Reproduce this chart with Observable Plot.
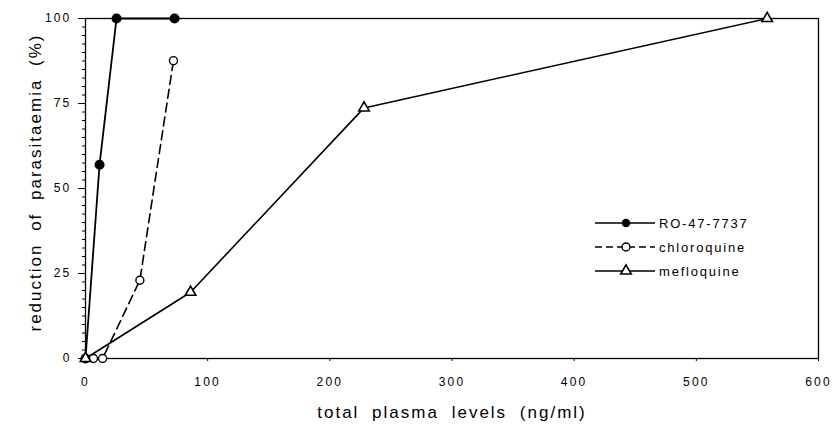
<!DOCTYPE html>
<html>
<head>
<meta charset="utf-8">
<script src="https://cdn.jsdelivr.net/npm/d3@7"></script>
<script src="https://cdn.jsdelivr.net/npm/@observablehq/plot@0.6"></script>
<style>
  body { margin: 0; background: #fff; }
  svg { font-family: "Liberation Sans", Arial, sans-serif; }
  g[aria-label$="tick label"] text { letter-spacing: 2.2px; }
</style>
</head>
<body>
<div id="chart"></div>
<script>
// ---- data ----
const roX  = [0, 11.5, 25.4, 72.9];
const roY  = [0, 57, 100, 100];
const chlX = [6.5, 14, 44.5, 72];
const chlY = [0, 0, 23, 87.6];
const mefX = [0, 86, 228, 558];
const mefY = [0, 19.5, 73.7, 100];

const xTicks = [0, 100, 200, 300, 400, 500, 600];
const yTicks = [0, 25, 50, 75, 100];
const yMinor = d3.range(0, 100.01, 2.5);

const seriesNames = ["RO-47-7737", "chloroquine", "mefloquine"];
const xLabel = "total plasma levels (ng/ml)";
const yLabel = "reduction of parasitaemia (%)";

const toRows = (xs, ys) => xs.map((x, i) => ({x, y: ys[i]}));
const ro = toRows(roX, roY), chl = toRows(chlX, chlY), mef = toRows(mefX, mefY);

const chart = Plot.plot({
  width: 834, height: 425,
  marginLeft: 85, marginRight: 16, marginTop: 18, marginBottom: 67,
  x: {domain: [0, 600]},
  y: {domain: [0, 100]},
  style: {fontFamily: "Liberation Sans, Arial, sans-serif", fontSize: "12px", color: "black", background: "white"},
  marks: [
    Plot.frame({stroke: "black", strokeWidth: 1.3}),
    Plot.axisY({ticks: yMinor, tickSize: 3, tickFormat: () => "", label: null}),
    Plot.axisY({ticks: yTicks, tickSize: 7, tickPadding: 7, label: null, fontSize: 12}),
    Plot.axisX({ticks: xTicks, tickSize: 3, tickPadding: 16, label: null, fontSize: 12}),
    Plot.line(mef, {x: "x", y: "y", stroke: "black", strokeWidth: 1.6}),
    Plot.line(chl, {x: "x", y: "y", stroke: "black", strokeWidth: 1.6, strokeDasharray: "9,5"}),
    Plot.line(ro, {x: "x", y: "y", stroke: "black", strokeWidth: 1.8}),
    Plot.dot(ro, {x: "x", y: "y", r: 4.3, fill: "black", stroke: "black"}),
    Plot.dot(chl, {x: "x", y: "y", r: 4, fill: "white", stroke: "black", strokeWidth: 1.4}),
    Plot.dot(mef, {x: "x", y: "y", r: 3.9, symbol: "triangle", fill: "white", stroke: "black", strokeWidth: 1.6}),
    Plot.text([yLabel], {frameAnchor: "left", textAnchor: "middle", dx: -45, dy: -6, rotate: -90, lineAnchor: "bottom", fontSize: 17, fill: "black"}),
    Plot.text([xLabel], {frameAnchor: "bottom", textAnchor: "middle", dy: 59, lineAnchor: "bottom", fontSize: 17, fill: "black"})
  ]
});

const svg = d3.select(chart);
svg.selectAll("text").filter(function() { return this.textContent === yLabel || this.textContent === xLabel; })
  .style("letter-spacing", "2px").style("word-spacing", "6px");

// ---- legend ----
const legend = svg.append("g").attr("font-size", 13).attr("text-anchor", "start")
  .attr("font-family", "Liberation Sans, Arial, sans-serif");
const legendRowY = [223, 247, 271];
const styles = [
  {dash: null, marker: "filled"},
  {dash: "7,4", marker: "open"},
  {dash: null, marker: "tri"}
];
seriesNames.forEach((name, i) => {
  const y = legendRowY[i];
  legend.append("line").attr("x1", 595).attr("x2", 655).attr("y1", y).attr("y2", y)
    .attr("stroke", "black").attr("stroke-width", 1.6).attr("stroke-dasharray", styles[i].dash);
  if (styles[i].marker === "filled") legend.append("circle").attr("cx", 626).attr("cy", y).attr("r", 4.3).attr("fill", "black");
  if (styles[i].marker === "open") legend.append("circle").attr("cx", 626).attr("cy", y).attr("r", 4).attr("fill", "white").attr("stroke", "black").attr("stroke-width", 1.4);
  if (styles[i].marker === "tri") legend.append("path").attr("transform", `translate(626,${y})`)
    .attr("d", d3.symbol(d3.symbolTriangle, Math.PI * 3.9 * 3.9)()).attr("fill", "white").attr("stroke", "black").attr("stroke-width", 1.6);
  legend.append("text").attr("x", 659).attr("y", y).attr("dy", "0.35em").attr("text-anchor", "start")
    .style("letter-spacing", "1.8px").text(name);
});

document.getElementById("chart").appendChild(chart);
</script>
</body>
</html>
